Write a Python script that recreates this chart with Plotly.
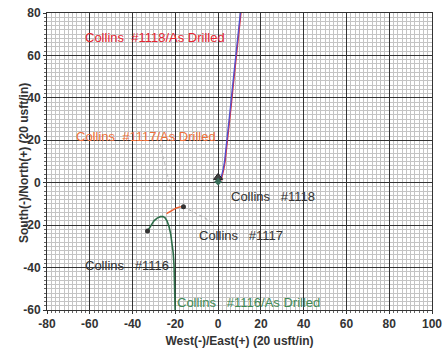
import plotly.graph_objects as go

# Collins #1118 (blue and red As Drilled, nearly overlapping)
w1118_blue_x = [0, 0.6, 1.2, 1.8, 2.4, 3.0, 3.6, 4.2, 5.0, 5.8, 6.6, 7.4, 8.2, 9.0, 9.8, 10.4]
w1118_blue_y = [0, 0.4, 1.5, 3.5, 6.5, 10, 15, 20, 28, 36, 44, 52, 60, 67, 74, 80]
w1118_red_x = [0, 0.8, 1.5, 2.1, 2.7, 3.3, 3.9, 4.5, 5.3, 6.1, 6.9, 7.7, 8.5, 9.3, 10.1, 10.7]
w1118_red_y = [0, 0.4, 1.5, 3.5, 6.5, 10, 15, 20, 28, 36, 44, 52, 60, 67, 74, 80]

# Collins #1117 As Drilled (orange)
w1117_x = [-16.2, -17.8, -19.5, -21.0, -22.6, -24.1]
w1117_y = [-11.3, -11.4, -11.9, -12.7, -13.6, -14.6]

# Collins #1116 As Drilled (dark green)
w1116_x = [-33, -32, -31, -30, -28.5, -27, -25.8, -24.8, -23.9, -23.0, -22.2, -21.5, -21.0, -20.6, -20.4, -20.2, -20.1]
w1116_y = [-22.8, -21, -19.5, -18, -16.7, -16.0, -15.9, -16.6, -18.0, -20.5, -24, -28.5, -33, -39, -45, -52, -60]

# Well heads
head_x = [0, -16.2, -33]
head_y = [0, -11.3, -22.8]

x_ticks = [-80, -60, -40, -20, 0, 20, 40, 60, 80, 100]
y_ticks = [-60, -40, -20, 0, 20, 40, 60, 80]

labels = [
    ("Collins&nbsp;&nbsp;#1118/As&nbsp;Drilled", -29.5, 68.4, "#e52530"),
    ("Collins&nbsp;&nbsp;#1117/As&nbsp;Drilled", -33.7, 22, "#f07038"),
    ("Collins&nbsp;&nbsp;&nbsp;#1118", 25.5, -6.6, "#333333"),
    ("Collins&nbsp;&nbsp;&nbsp;#1117", 10.7, -24.7, "#333333"),
    ("Collins&nbsp;&nbsp;&nbsp;#1116", -42.8, -39.1, "#333333"),
    ("Collins&nbsp;&nbsp;&nbsp;#1116/As&nbsp;Drilled", 14.4, -56.6, "#3f8a55"),
]

FONT = "Liberation Sans, Arial, sans-serif"

fig = go.Figure()
# faint leader lines
fig.add_trace(go.Scatter(x=[-16.2, -1], y=[-11.3, -19.5], mode="lines",
                         line=dict(color="#aaaaaa", width=1, dash="dot")))
fig.add_trace(go.Scatter(x=[-27, -21], y=[18, -8], mode="lines",
                         line=dict(color="#bbbbbb", width=1, dash="dot")))
fig.add_trace(go.Scatter(x=w1116_x, y=w1116_y, mode="lines", line=dict(color="#2f6e4a", width=1.6)))
fig.add_trace(go.Scatter(x=w1117_x, y=w1117_y, mode="lines", line=dict(color="#f06030", width=1.4)))
fig.add_trace(go.Scatter(x=w1118_red_x, y=w1118_red_y, mode="lines", line=dict(color="#e0303a", width=1.3)))
fig.add_trace(go.Scatter(x=w1118_blue_x, y=w1118_blue_y, mode="lines", line=dict(color="#5050d0", width=1.3)))
fig.add_trace(go.Scatter(x=head_x[1:], y=head_y[1:], mode="markers",
                         marker=dict(color="#333333", size=5, symbol="circle")))
fig.add_trace(go.Scatter(x=head_x[:1], y=[2.5], mode="markers",
                         marker=dict(color="#444444", size=8, symbol="triangle-up",
                                     line=dict(color="#222222", width=1))))
fig.add_trace(go.Scatter(x=head_x[:1], y=[0.5], mode="markers",
                         marker=dict(color="#3a6e5a", size=6, symbol="diamond")))

for txt, x, y, c in labels:
    fig.add_annotation(x=x, y=y, text=txt, showarrow=False,
                       font=dict(family=FONT, size=13, color=c))

fig.add_annotation(xref="paper", yref="paper", x=-0.083, y=0.495, textangle=-90,
                   text="<b>South(-)/North(+) (20 usft/in)</b>", showarrow=False,
                   font=dict(family=FONT, size=12, color="#333333"))

axis_common = dict(
    showgrid=True, gridcolor="#333333", gridwidth=1,
    minor=dict(dtick=2, showgrid=True, gridcolor="#c4c4c4", gridwidth=1,
               ticks="outside", ticklen=2, tickcolor="#666666"),
    zeroline=False, showline=True, linecolor="#333333", linewidth=1, mirror=True,
    ticks="outside", ticklen=3, tickcolor="#333333", automargin=False,
    tickfont=dict(family=FONT, size=12, color="#333333"),
)

fig.update_xaxes(range=[-80, 100], tickvals=x_ticks, ticktext=[f"<b>{v}</b>" for v in x_ticks],
                 title=dict(text="<b>West(-)/East(+) (20 usft/in)</b>", standoff=8,
                            font=dict(family=FONT, size=12, color="#333333")),
                 **axis_common)
fig.update_yaxes(range=[-60, 80], tickvals=y_ticks, ticktext=[f"<b>{v}</b>" for v in y_ticks],
                 **axis_common)

fig.update_layout(width=445, height=348, margin=dict(l=47, r=13, t=13, b=38),
                  paper_bgcolor="white", plot_bgcolor="white", showlegend=False)

fig.write_html("out.html")
